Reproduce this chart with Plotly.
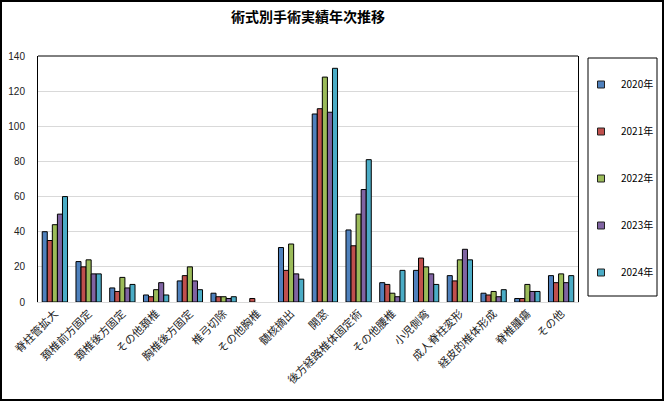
import plotly.graph_objects as go

categories = ["脊柱管拡大", "頚椎前方固定", "頚椎後方固定", "その他頚椎", "胸椎後方固定",
              "椎弓切除", "その他胸椎", "髄核摘出", "開窓", "後方経路椎体固定術",
              "その他腰椎", "小児側弯", "成人脊柱変形", "経皮的椎体形成", "脊椎腫瘍", "その他"]

years = ["2020年", "2021年", "2022年", "2023年", "2024年"]

# None = empty cell (no bar drawn)
y2020 = [40, 23, 8, 4, 12, 5, None, 31, 107, 41, 11, 18, 15, 5, 2, 15]
y2021 = [35, 20, 6, 3, 15, 3, 2, 18, 110, 32, 10, 25, 12, 4, 2, 11]
y2022 = [44, 24, 14, 7, 20, 3, None, 33, 128, 50, 5, 20, 24, 6, 10, 16]
y2023 = [50, 16, 8, 11, 12, 2, None, 16, 108, 64, 3, 16, 30, 3, 6, 11]
y2024 = [60, 16, 10, 4, 7, 3, None, 13, 133, 81, 18, 10, 24, 7, 6, 15]

colors = ['#4F81BD', '#C0504D', '#9BBB59', '#8064A2', '#4BACC6']

W, H = 665, 402
L, R, T, B = 38, 87, 56, 100
pw, ph = W - L - R, H - T - B


def px_x(x):
    return (x - L) / pw


def px_y(y):
    return (H - B - y) / ph


fig = go.Figure()
for name, vals, c in zip(years, [y2020, y2021, y2022, y2023, y2024], colors):
    fig.add_trace(go.Bar(x=categories, y=vals, name=name, showlegend=False,
                         marker=dict(color=c, line=dict(color='black', width=1))))
    # small square swatch for the legend
    fig.add_trace(go.Scatter(x=[None], y=[None], mode='markers', name=name, legendgroup=name,
                             marker=dict(symbol='square', size=7, color=c,
                                         line=dict(color='#222', width=1))))

fig.update_layout(
    width=W, height=H,
    margin=dict(l=L, r=R, t=T, b=B, autoexpand=False),
    paper_bgcolor='white', plot_bgcolor='white',
    barmode='group', bargap=0.25, bargroupgap=0,
    font=dict(family='Noto Sans CJK JP', color='black'),
    title=dict(text='<b>術式別手術実績年次推移</b>', x=0.5, xref='paper', xanchor='center',
               y=1 - 17 / H, yanchor='middle', font=dict(size=14)),
    showlegend=True,
    legend=dict(x=px_x(581), xanchor='left', y=px_y(70), yanchor='top',
                font=dict(size=10), tracegroupgap=28, itemwidth=30,
                bgcolor='rgba(0,0,0,0)', traceorder='grouped'),
)

fig.update_xaxes(tickangle=-45, tickfont=dict(size=11, color='#222'),
                 showline=True, linecolor='#d9d9d9', linewidth=1, ticks='', showgrid=False)
fig.update_yaxes(range=[0, 140], dtick=20, showgrid=True, gridcolor='#d9d9d9',
                 showline=True, linecolor='black', linewidth=1, mirror=True,
                 tickfont=dict(size=10, family='Liberation Sans', color='#222'),
                 ticklabelstandoff=10, zeroline=False)

shapes = [
    # top edge of the plot frame
    dict(type='line', xref='paper', yref='paper', x0=0, x1=1, y0=1, y1=1,
         line=dict(color='black', width=1)),
    # legend box
    dict(type='rect', xref='paper', yref='paper', x0=px_x(588), x1=px_x(657),
         y0=px_y(296), y1=px_y(58), line=dict(color='black', width=1)),
    # outer chart border
    dict(type='rect', xref='paper', yref='paper', x0=px_x(1), x1=px_x(663),
         y0=px_y(400), y1=px_y(1), line=dict(color='black', width=2)),
]
fig.update_layout(shapes=shapes)

fig.write_html("out.html", config={'displayModeBar': False},
               post_script="document.body.style.margin='0';")
